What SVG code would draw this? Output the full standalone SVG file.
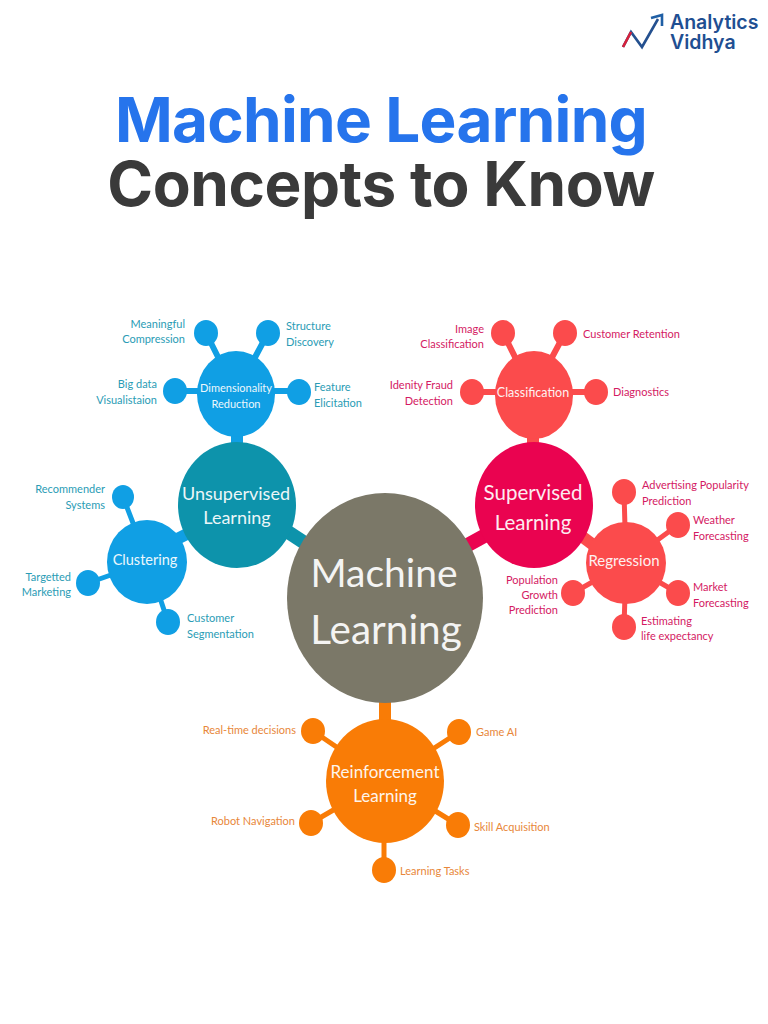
<svg xmlns="http://www.w3.org/2000/svg" width="768" height="1024" viewBox="0 0 768 1024">
<style>
text{font-family:Lato,"Open Sans","Liberation Sans",sans-serif}
.t{font-family:Inter,Roboto,"Liberation Sans",sans-serif;font-weight:700;font-size:62px}
.a{font-family:Inter,Roboto,sans-serif;font-size:19.5px;font-weight:600;fill:#1f4f92}
.b{fill:#109fe4}.bs{stroke:#109fe4}
.g{fill:#0d93ab}.gs{stroke:#0d93ab}
.r{fill:#fb4b4c}.rs{stroke:#fb4b4c}
.c{fill:#ea0350}.cs{stroke:#ea0350}
.o{fill:#f97c06}.os{stroke:#f97c06}
.w{fill:#fff;opacity:.92}
.lb{fill:#2a9cb5;font-size:11px}
.lr{fill:#d41a63;font-size:11px}
.lo{fill:#e8873a;font-size:11px}
.e{text-anchor:end}.m{text-anchor:middle}
</style>
<rect width="768" height="1024" fill="#fff"/>
<g id="logo">
<path d="M623 47L631 32L642 47L658 19" fill="none" stroke="#24508f" stroke-width="2.6"/>
<path d="M623 47L631 32" fill="none" stroke="#d8213a" stroke-width="2.6"/>
<path d="M651 18L662 15L662 26" fill="none" stroke="#1f5fa5" stroke-width="2.6"/>
<text class="a" x="670" y="29">Analytics</text>
<text class="a" x="670" y="49">Vidhya</text>
</g>
<g id="title">
<text class="t" x="381" y="142" text-anchor="middle" fill="#2674ec" letter-spacing="-.7">Machine Learning</text>
<text class="t" x="381" y="206" text-anchor="middle" fill="#3a3a3a" letter-spacing="-.45">Concepts to Know</text>
</g>
<g id="connectors" fill="none">
<g class="bs" stroke-width="6">
<path d="M206 333L236 393M268 333L236 393M175 391H299"/>
</g>
<path class="bs" d="M237 430V455" stroke-width="12"/>
<g class="bs" stroke-width="5"><path d="M123 497L148 562M88 583L148 562M168 622L148 562"/></g>
<path class="bs" d="M175 540L195 530" stroke-width="12"/>
<path class="gs" d="M285 530L320 553" stroke-width="14"/>
<g class="rs" stroke-width="6">
<path d="M503 333L533 393M565 333L533 393M472 392H596"/>
</g>
<path class="rs" d="M533 430V455" stroke-width="12"/>
<g class="rs" stroke-width="5"><path d="M624 492L626 563M678 525L626 563M678 593L626 563M624 627L626 563M573 593L626 563"/></g>
<path class="rs" d="M580 535L600 550" stroke-width="12"/>
<path class="cs" d="M495 530L455 552" stroke-width="14"/>
<path class="os" d="M385 695V725" stroke-width="12"/>
<g class="os" stroke-width="5"><path d="M313 731L385 780M459 732L385 780M311 823L385 780M458 825L385 780M384 870V780"/></g>
</g>
<g id="dimensionality">
<ellipse class="b" cx="236" cy="394" rx="39" ry="43"/><ellipse class="b" cx="206" cy="333" rx="12" ry="13"/><ellipse class="b" cx="268" cy="333" rx="12" ry="13"/><ellipse class="b" cx="175" cy="391" rx="12" ry="13"/><ellipse class="b" cx="299" cy="392" rx="12" ry="13"/>
<text class="w m" x="236" y="392" font-size="11">Dimensionality</text><text class="w m" x="236" y="408" font-size="11">Reduction</text>
<text class="lb e" x="185" y="328">Meaningful</text><text class="lb e" x="185" y="343">Compression</text>
<text class="lb" x="286" y="330">Structure</text><text class="lb" x="286" y="346">Discovery</text>
<text class="lb e" x="157" y="388">Big data</text><text class="lb e" x="157" y="404">Visualistaion</text>
<text class="lb" x="314" y="391">Feature</text><text class="lb" x="314" y="407">Elicitation</text>
</g>
<g id="clustering">
<ellipse class="b" cx="147" cy="562" rx="40" ry="42"/><ellipse class="b" cx="123" cy="497" rx="11" ry="12"/><ellipse class="b" cx="88" cy="583" rx="12" ry="13"/><ellipse class="b" cx="168" cy="622" rx="12" ry="13"/>
<text class="w m" x="145" y="565" font-size="14.5">Clustering</text>
<text class="lb e" x="105" y="493">Recommender</text><text class="lb e" x="105" y="509">Systems</text>
<text class="lb e" x="71" y="581">Targetted</text><text class="lb e" x="71" y="596">Marketing</text>
<text class="lb" x="187" y="622">Customer</text><text class="lb" x="187" y="638">Segmentation</text>
</g>
<g id="unsupervised">
<ellipse class="g" cx="237" cy="505" rx="59" ry="63"/>
<text class="w m" x="236" y="500" font-size="18">Unsupervised</text><text class="w m" x="237" y="524" font-size="18">Learning</text>
</g>
<g id="classification">
<ellipse class="r" cx="534" cy="395" rx="39" ry="44"/><ellipse class="r" cx="503" cy="333" rx="12" ry="13"/><ellipse class="r" cx="565" cy="333" rx="12" ry="13"/><ellipse class="r" cx="472" cy="392" rx="12" ry="13"/><ellipse class="r" cx="596" cy="392" rx="12" ry="13"/>
<text class="w m" x="533" y="397" font-size="12.5">Classification</text>
<text class="lr e" x="484" y="333">Image</text><text class="lr e" x="484" y="348">Classification</text>
<text class="lr" x="583" y="338">Customer Retention</text>
<text class="lr e" x="453" y="389">Idenity Fraud</text><text class="lr e" x="453" y="405">Detection</text>
<text class="lr" x="613" y="396">Diagnostics</text>
</g>
<g id="regression">
<ellipse class="r" cx="626" cy="563" rx="40" ry="41"/><ellipse class="r" cx="624" cy="492" rx="12" ry="13"/><ellipse class="r" cx="678" cy="525" rx="12" ry="13"/><ellipse class="r" cx="678" cy="593" rx="12" ry="13"/><ellipse class="r" cx="624" cy="627" rx="12" ry="13"/><ellipse class="r" cx="573" cy="593" rx="12" ry="13"/>
<text class="w m" x="624" y="566" font-size="15">Regression</text>
<text class="lr" x="642" y="489">Advertising Popularity</text><text class="lr" x="642" y="505">Prediction</text>
<text class="lr" x="693" y="524">Weather</text><text class="lr" x="693" y="540">Forecasting</text>
<text class="lr" x="693" y="591">Market</text><text class="lr" x="693" y="607">Forecasting</text>
<text class="lr" x="641" y="625">Estimating</text><text class="lr" x="641" y="640">life expectancy</text>
<text class="lr e" x="558" y="584">Population</text><text class="lr e" x="558" y="599">Growth</text><text class="lr e" x="558" y="614">Prediction</text>
</g>
<g id="supervised">
<ellipse class="c" cx="534" cy="505" rx="59" ry="63"/>
<text class="w m" x="533" y="500" font-size="20.5">Supervised</text><text class="w m" x="533" y="530" font-size="20.5">Learning</text>
</g>
<g id="machine-learning">
<ellipse cx="385" cy="598" rx="98" ry="105" fill="#7b7868"/>
<text class="w m" x="384" y="587" font-size="39">Machine</text><text class="w m" x="386" y="644" font-size="40.5">Learning</text>
</g>
<g id="reinforcement">
<ellipse class="o" cx="385" cy="781" rx="59" ry="62"/><ellipse class="o" cx="313" cy="731" rx="12" ry="13"/><ellipse class="o" cx="459" cy="732" rx="12" ry="13"/><ellipse class="o" cx="311" cy="823" rx="12" ry="13"/><ellipse class="o" cx="458" cy="825" rx="12" ry="13"/><ellipse class="o" cx="384" cy="870" rx="12" ry="13"/>
<text class="w m" x="385" y="778" font-size="17">Reinforcement</text><text class="w m" x="385" y="802" font-size="17">Learning</text>
<text class="lo e" x="296" y="734">Real-time decisions</text>
<text class="lo" x="476" y="736">Game AI</text>
<text class="lo e" x="295" y="825">Robot Navigation</text>
<text class="lo" x="474" y="831">Skill Acquisition</text>
<text class="lo" x="400" y="875">Learning Tasks</text>
</g>
</svg>
